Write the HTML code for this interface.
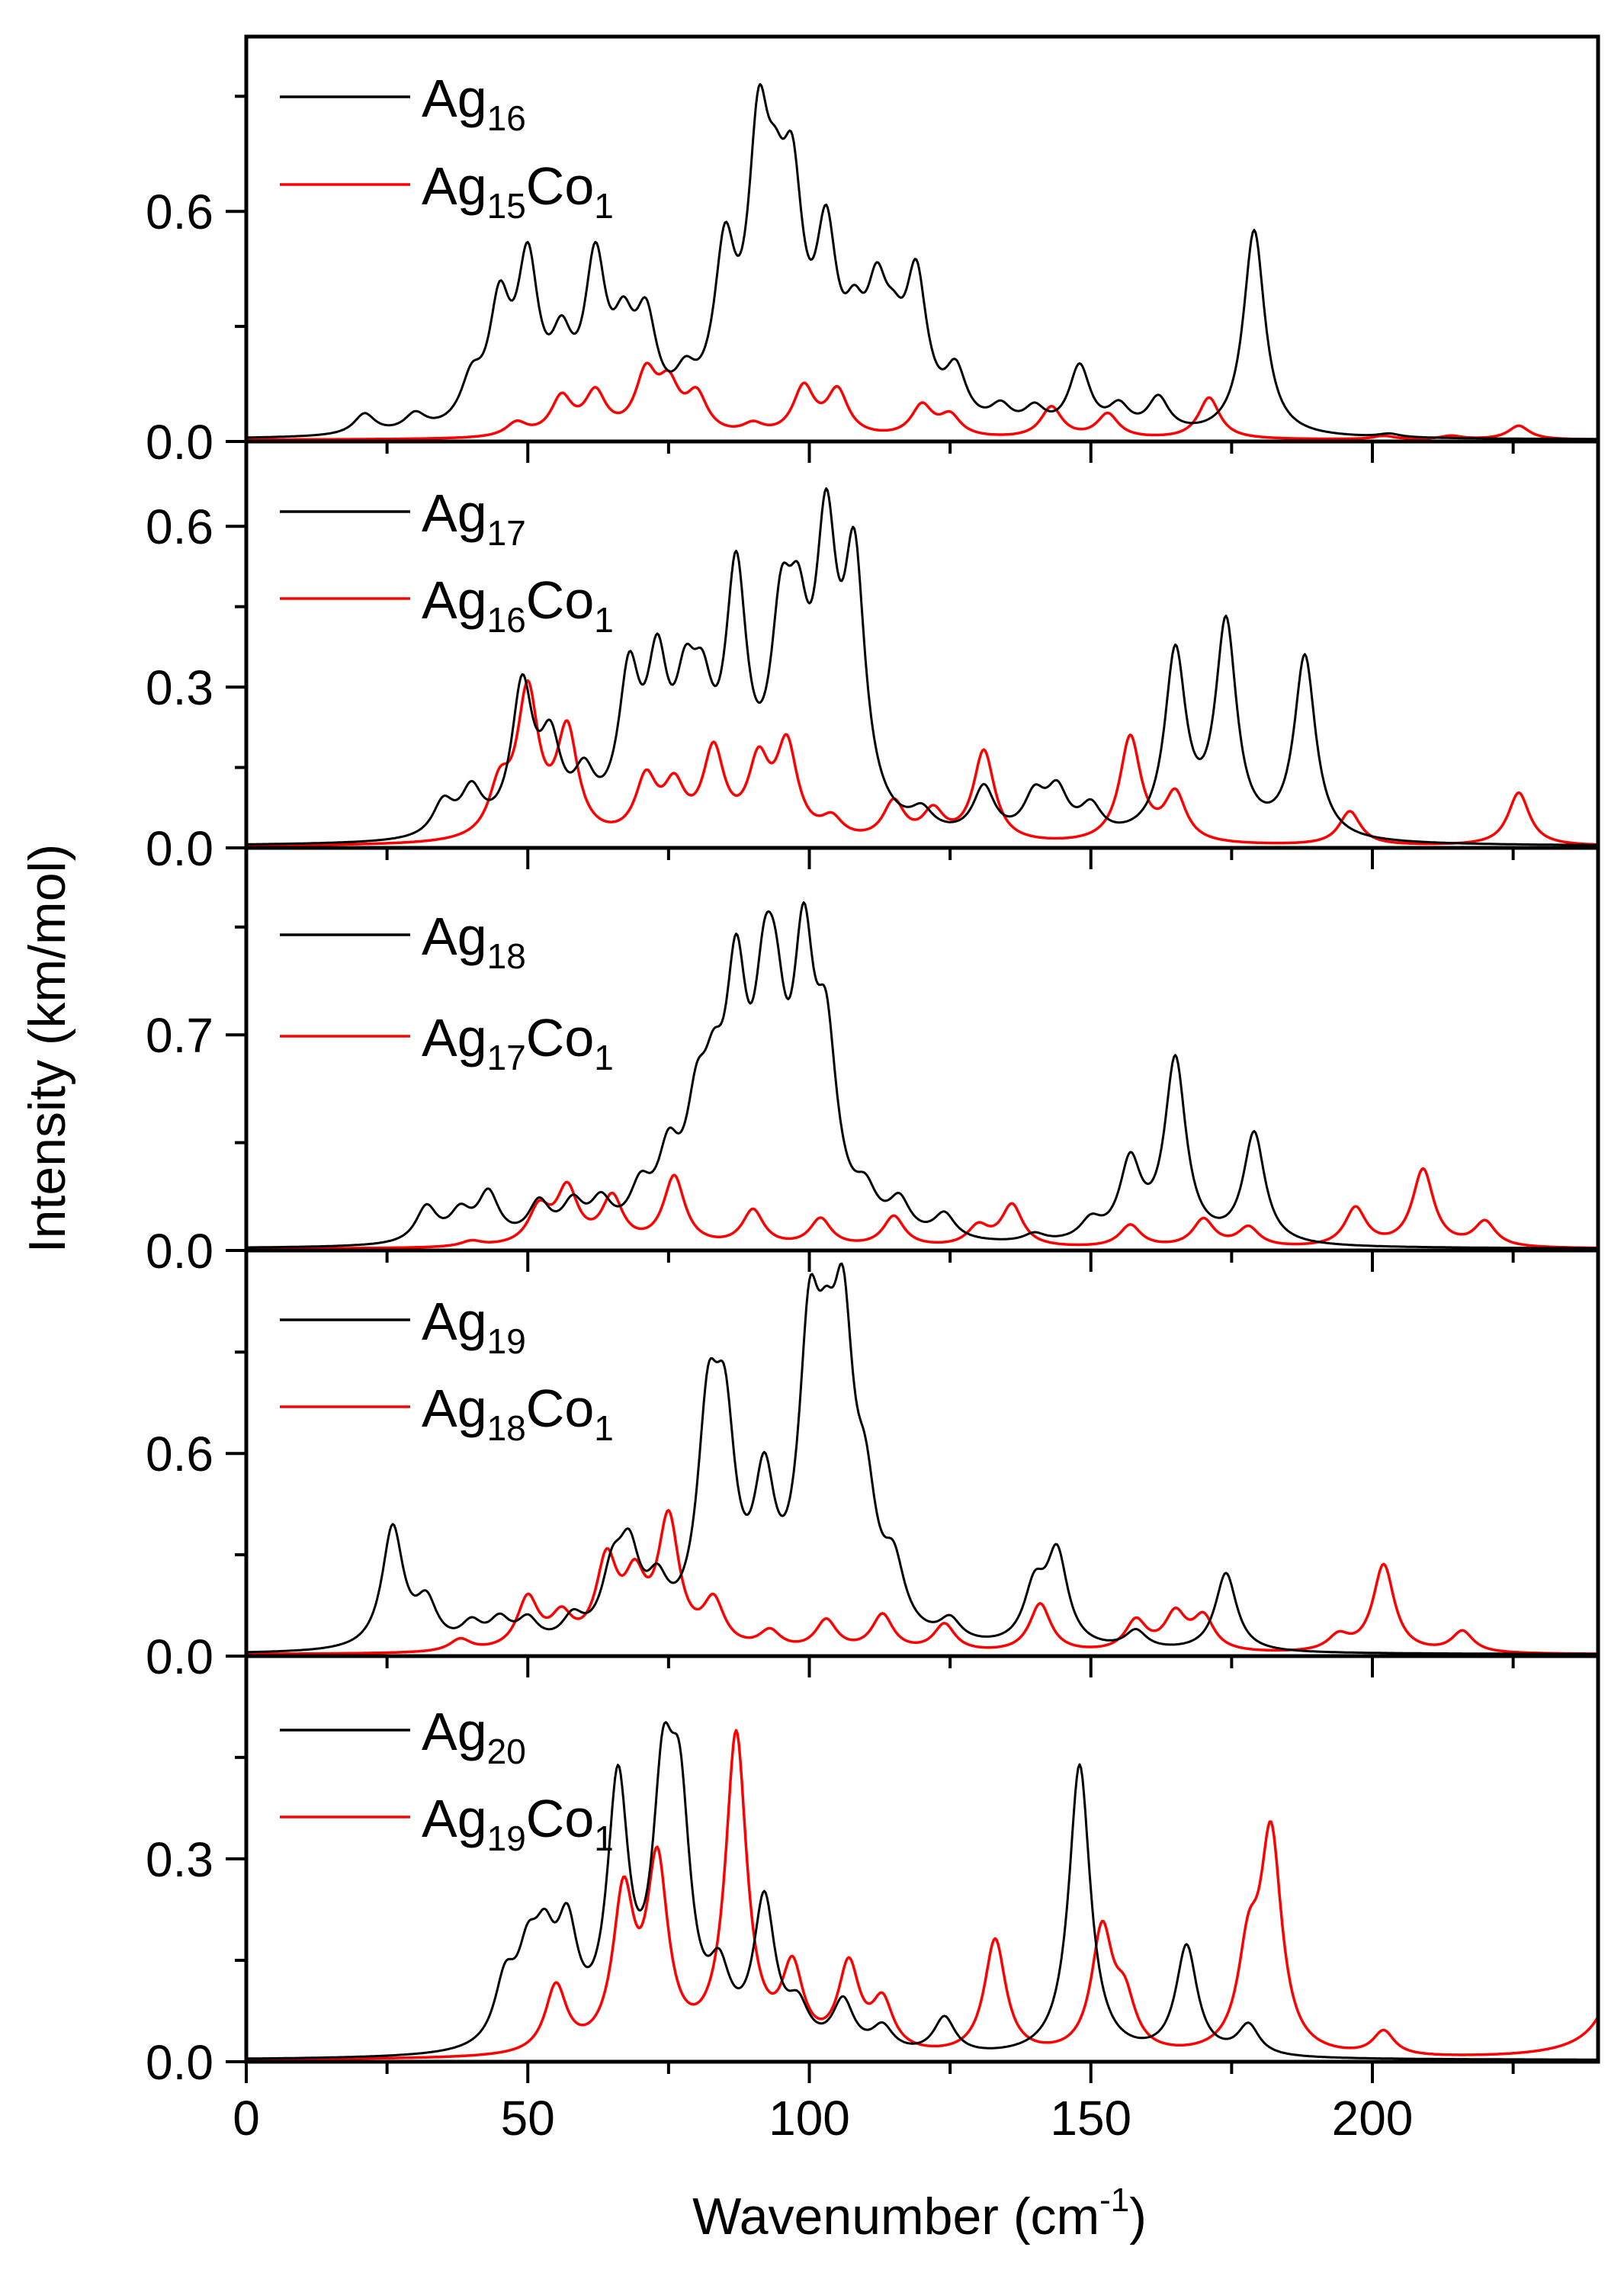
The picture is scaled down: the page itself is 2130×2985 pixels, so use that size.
<!DOCTYPE html>
<html><head><meta charset="utf-8">
<style>
html,body{margin:0;padding:0;background:#fff;}
svg{display:block;font-family:"Liberation Sans",Arial,sans-serif;}
</style></head>
<body>
<svg id="s" width="2130" height="2985" viewBox="0 0 2130 2985" xmlns="http://www.w3.org/2000/svg">
<rect width="2130" height="2985" fill="#fff"/>
<g id="curves"></g>
<g id="axes"></g>
<text x="1206" y="2930" font-size="68" text-anchor="middle">Wavenumber (cm<tspan font-size="44" dy="-30">-1</tspan><tspan dy="30">)</tspan></text>
<text transform="translate(85,1375) rotate(-90)" font-size="68" text-anchor="middle">Intensity (km/mol)</text>
</svg>
<script>
var NS="http://www.w3.org/2000/svg";
var X0=323, XS=7.385, XR=2096, TOP=48;
var bottoms=[579,1112,1640,2172,2704];
var tops=[48,579,1112,1640,2172];
var scale=[503,703,404,443,887];
var ticks=[[0,0.6],[0,0.3,0.6],[0,0.7],[0,0.6],[0,0.3]];
var minors=[[0.3,0.9],[0.15,0.45],[0.35,1.05],[0.3,0.9],[0.15,0.45]];
var labels=[["16","15"],["17","16"],["18","17"],["19","18"],["20","19"]];
var legY=[[127,242],[671,785],[1226,1359],[1731,1845],[2269,2383]];
var data=[
 {k:[[21,.06],[30,.05],[40,.12],[45,.33],[50,.45],[56,.2],[62,.45],[67,.22],[71,.27],[78,.1],[85,.45],[91,.72],[94,.35],[97,.55],[103,.48],[108,.2],[112,.3],[115,.15],[119,.4],[126,.15],[134,.06],[140,.06],[148,.19],[155,.07],[162,.1],[179,.6],[203,.01]],
  r:[[48,.04],[56,.11],[62,.12],[71,.17],[75,.13],[80,.11],[90,.03],[99,.14],[105,.13],[120,.09],[125,.06],[143,.09],[153,.07],[171,.12],[202,.01],[214,.01],[226,.04]]},
 {k:[[35,.07],[40,.09],[49,.3],[54,.17],[60,.1],[68,.3],[73,.3],[78,.22],[81,.2],[87,.5],[95,.35],[98,.3],[103,.55],[108,.52],[120,.04],[131,.1],[140,.08],[144,.09],[150,.06],[165,.38],[174,.44],[188,.38]],
  r:[[45,.1],[50,.3],[57,.22],[71,.12],[76,.1],[83,.18],[91,.15],[96,.19],[104,.04],[115,.08],[122,.06],[131,.19],[157,.22],[165,.1],[196,.07],[226,.11]]},
 {k:[[32,.13],[38,.1],[43,.17],[52,.13],[58,.12],[63,.12],[70,.15],[75,.25],[80,.35],[83,.35],[87,.8],[92,.6],[94,.5],[99,.9],[103,.6],[110,.12],[116,.12],[124,.09],[140,.03],[150,.07],[157,.28],[165,.66],[179,.4]],
  r:[[40,.02],[52,.13],[57,.2],[65,.17],[76,.25],[90,.13],[102,.1],[115,.11],[130,.07],[136,.15],[157,.08],[170,.1],[178,.07],[197,.14],[209,.28],[220,.09]]},
 {k:[[26,.4],[32,.14],[40,.07],[45,.08],[50,.08],[58,.08],[65,.2],[68,.26],[73,.15],[82,.65],[85,.6],[92,.45],[100,.85],[103,.5],[106,.85],[110,.35],[115,.2],[125,.07],[140,.18],[144,.3],[158,.06],[174,.26]],
  r:[[38,.04],[50,.17],[56,.1],[64,.28],[69,.2],[75,.42],[83,.15],[93,.06],[103,.1],[113,.12],[124,.09],[141,.16],[158,.1],[165,.12],[170,.11],[194,.05],[202,.29],[216,.07]]},
 {k:[[46,.1],[50,.12],[53,.13],[57,.17],[66,.42],[74,.37],[77,.34],[84,.1],[92,.24],[98,.06],[106,.08],[113,.04],[124,.06],[148,.48],[167,.18],[178,.05]],
  r:[[55,.11],[67,.25],[73,.3],[87,.52],[97,.13],[107,.14],[113,.08],[133,.19],[152,.2],[156,.08],[178,.15],[182,.35],[202,.04],[248,.9]]}
];
var G=2.3;
function f(p,v){var s=0;for(var i=0;i<p.length;i++){var d=(v-p[i][0])/G;s+=0.9*p[i][1]/(1+d*d);}return s;}
var cg=document.getElementById('curves'), ag=document.getElementById('axes');
function el(t,a,par){var e=document.createElementNS(NS,t);for(var k in a)e.setAttribute(k,a[k]);(par||ag).appendChild(e);return e;}
for(var p=0;p<5;p++){
 var b=bottoms[p],sc=scale[p],tp=tops[p];
 ['r','k'].forEach(function(c){
  var pts=[];for(var v=0;v<=240;v+=0.25){var y=b-2-f(data[p][c],v)*sc; if(y<tp+3)y=tp+3; pts.push((X0+v*XS).toFixed(1)+','+y.toFixed(1));}
  el('polyline',{points:pts.join(' '),fill:'none',stroke:c=='r'?'#ff0000':'#000','stroke-width':c=='r'?3.5:3,'stroke-linejoin':'round'},cg);
 });
 ticks[p].forEach(function(t){var y=b-t*sc;el('line',{x1:296,x2:X0,y1:y,y2:y,stroke:'#000','stroke-width':4});
  el('text',{x:280,y:y+23,'font-size':64,'text-anchor':'end'}).textContent=t.toFixed(1);});
 minors[p].forEach(function(t){var y=b-t*sc;if(y>tp+5)el('line',{x1:308,x2:X0,y1:y,y2:y,stroke:'#000','stroke-width':4});});
 for(var v=25;v<=225;v+=25){var x=X0+v*XS;el('line',{x1:x,x2:x,y1:b,y2:b+(v%50==0?28:16),stroke:'#000','stroke-width':4});}
 if(p==4){el('line',{x1:X0,x2:X0,y1:b,y2:b+28,stroke:'#000','stroke-width':4});}
 el('line',{x1:X0-2,x2:XR+2,y1:b,y2:b,stroke:'#000','stroke-width':5});
 var ly=legY[p];
 el('line',{x1:367,x2:538,y1:ly[0],y2:ly[0],stroke:'#000','stroke-width':3.5});
 el('line',{x1:367,x2:538,y1:ly[1],y2:ly[1],stroke:'#ff0000','stroke-width':3.5});
 var t1=el('text',{x:553,y:ly[0]+26,'font-size':70});
 t1.innerHTML='Ag<tspan font-size="46" dy="18">'+labels[p][0]+'</tspan>';
 var t2=el('text',{x:553,y:ly[1]+26,'font-size':70});
 t2.innerHTML='Ag<tspan font-size="46" dy="18">'+labels[p][1]+'</tspan><tspan dy="-18">Co</tspan><tspan font-size="46" dy="18">1</tspan>';
}
el('rect',{x:X0,y:TOP,width:XR-X0,height:2704-TOP,fill:'none',stroke:'#000','stroke-width':5});
[0,50,100,150,200].forEach(function(v){el('text',{x:X0+v*XS,y:2800,'font-size':64,'text-anchor':'middle'}).textContent=v;});
</script>
</body></html>
